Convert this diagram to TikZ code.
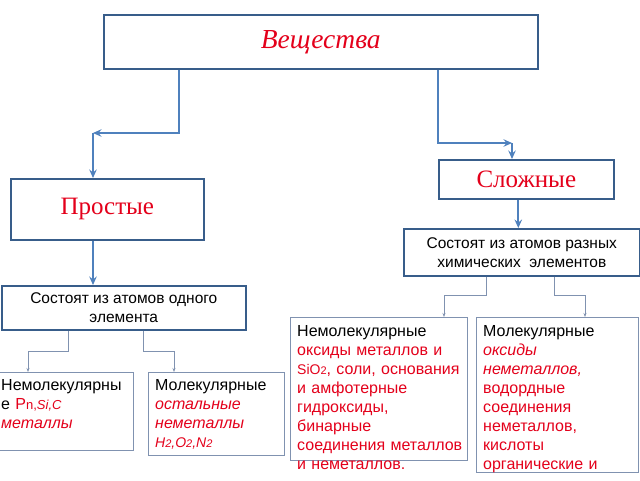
\documentclass[tikz,border=0pt]{standalone}
\usepackage{fontspec}
\setmainfont{Liberation Sans}
\newfontfamily\serifcyr{Liberation Serif}
\usetikzlibrary{arrows.meta}

\definecolor{boxblue}{RGB}{56,93,138}
\definecolor{arrowblue}{RGB}{79,129,189}
\definecolor{greyblue}{RGB}{128,146,176}
\definecolor{textred}{RGB}{228,0,27}

\newcommand{\sm}[1]{{\fontsize{11}{11}\selectfont #1}}

\begin{document}
\begin{tikzpicture}[x=1pt, y=-1pt,
		topbox/.style={draw=boxblue, line width=1.6pt, fill=white, inner sep=0pt, anchor=north west, align=center},
		lowbox/.style={draw=greyblue, line width=1.1pt, inner sep=0pt, anchor=north west},
		txt/.style={anchor=north west, inner sep=0pt, text width=220pt, align=left, font=\fontsize{16}{19}\selectfont},
		thickarrow/.style={draw=arrowblue, line width=1.8pt, -{Stealth[length=8.5pt, width=7.5pt, inset=3pt]}},
		thinarrow/.style={draw=greyblue, line width=0.9pt, -{Stealth[length=4pt, width=3pt]}}]
			\fill[white] (0,0) rectangle (640,480);
			\useasboundingbox (0,0) rectangle (640,480);
			
			% Top level
			\node[topbox, minimum width=434, minimum height=54, text=textred, font=\serifcyr\itshape\fontsize{27.5}{30}\selectfont] (subst) at (103,14) {Вещества};
			\node[topbox, minimum width=193, minimum height=61, text=textred, font=\serifcyr\fontsize{25}{28}\selectfont] (simple) at (10,178) {Простые};
			\node[topbox, minimum width=175, minimum height=39, text=textred, font=\serifcyr\fontsize{25}{28}\selectfont] (complex) at (438,159) {Сложные};
			
			% Second level
			\node[topbox, minimum width=244, minimum height=44, font=\fontsize{15.5}{19}\selectfont] (one) at (1,285) {Состоят из атомов одного\\элемента};
			\node[topbox, minimum width=236, minimum height=47, font=\fontsize{15.5}{19}\selectfont] (many) at (403,228) {Состоят из атомов разных\\химических \ элементов};
			
			% Lower boxes
			\node[lowbox, minimum width=141, minimum height=78] (nonmolL) at (-8,372) {};
			\node[lowbox, minimum width=136, minimum height=83] (molL) at (148,372) {};
			\node[lowbox, minimum width=177, minimum height=143] (nonmolR) at (290,317) {};
			\node[lowbox, minimum width=162, minimum height=155] (molR) at (476,317) {};
			
			\node[txt] (nonmolLtxt) at ([shift={(9,7.5)}]nonmolL.north west) {Немолекулярны\\е {\color{textred}P{\fontsize{13}{13}\selectfont n,\itshape Si,C}}\\{\color{textred}\itshape металлы}};
			\node[txt] (molLtxt) at ([shift={(7,7.5)}]molL.north west) {Молекулярные\\{\color{textred}\itshape остальные\\неметаллы\\{\fontsize{14}{19}\selectfont H\sm{2},O\sm{2},N\sm{2}}}};
			\node[txt] (nonmolRtxt) at ([shift={(7,8.5)}]nonmolR.north west) {Немолекулярные\\{\color{textred}оксиды металлов и\\{\fontsize{14}{19}\selectfont SiO\sm{2}}, соли, основания\\и амфотерные\\гидроксиды,\\бинарные\\соединения металлов\\и неметаллов.}};
			\node[txt] (molRtxt) at ([shift={(7,8.5)}]molR.north west) {Молекулярные\\{\color{textred}{\itshape оксиды\\неметаллов,}\\водордные\\соединения\\неметаллов,\\кислоты\\органические и}};
			
			% Thick connectors
			\coordinate (cornL) at (93,133);
			\coordinate (cornR) at (512,143);
			\draw[thickarrow] ([xshift=76pt]subst.south west) |- (cornL);
			\draw[thickarrow] (cornL) -- (cornL |- simple.north);
			\draw[thickarrow] (complex.west |- subst.south) |- (cornR);
			\draw[thickarrow] (cornR) -- (cornR |- complex.north);
			\draw[thickarrow] (cornL |- simple.south) -- (cornL |- one.north);
			\draw[thickarrow] ([xshift=-8pt]complex.south) -- ([xshift=-8pt]complex.south |- many.north);
			
			% Thin connectors
			\coordinate (kL1) at (28,351);
			\coordinate (kL2) at (174,351);
			\coordinate (kR1) at (444,295);
			\coordinate (kR2) at (585,295);
			\draw[thinarrow] ([xshift=-55pt]one.south) |- (kL1) -- (kL1 |- nonmolL.north);
			\draw[thinarrow] ([xshift=20pt]one.south) |- (kL2) -- (kL2 |- molL.north);
			\draw[thinarrow] ([xshift=-35pt]many.south) |- (kR1) -- (kR1 |- nonmolR.north);
			\draw[thinarrow] ([xshift=33pt]many.south) |- (kR2) -- (kR2 |- molR.north);
		\end{tikzpicture}
\end{document}
